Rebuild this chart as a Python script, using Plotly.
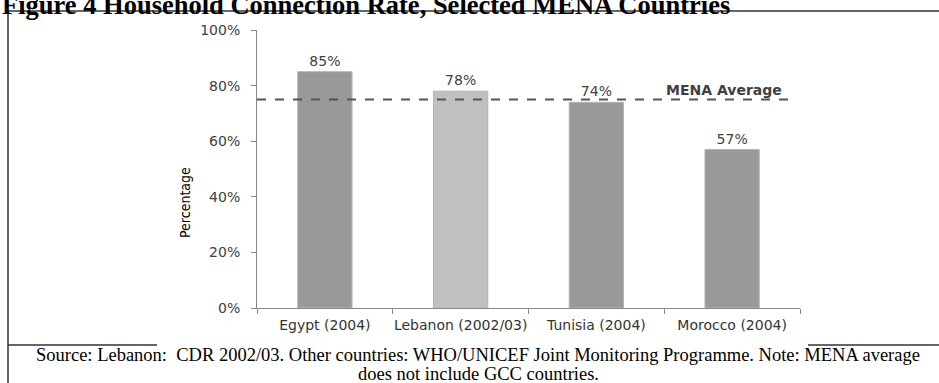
import plotly.graph_objects as go

categories = ["Egypt (2004)", "Lebanon (2002/03)", "Tunisia (2004)", "Morocco (2004)"]
values = [85, 78, 74, 57]
labels = ["85%", "78%", "74%", "57%"]
bar_colors = ["#999999", "#c0c0c0", "#999999", "#999999"]
mena_average = 75
y_ticks = [0, 20, 40, 60, 80, 100]
y_tick_text = ["0%", "20%", "40%", "60%", "80%", "100%"]

W, H = 939, 383


def px_x(x):
    return x / W


def px_y(y):
    return 1 - y / H


X0, X1 = 257, 800
Y0, Y1 = 30, 308

fig = go.Figure()
fig.add_trace(go.Bar(
    x=categories, y=values, width=0.4,
    marker=dict(color=bar_colors, line=dict(color="#b4b4b4", width=1)),
    text=labels, textposition="outside",
    textfont=dict(family="DejaVu Sans", size=14, color="#404040"),
    cliponaxis=False, hoverinfo="skip",
))

fig.update_layout(
    width=W, height=H, margin=dict(l=0, r=0, t=0, b=0, autoexpand=False),
    paper_bgcolor="white", plot_bgcolor="white",
    showlegend=False, bargap=0.6,
    xaxis=dict(
        domain=[px_x(X0), px_x(X1)], type="category", automargin=False,
        showline=True, linecolor="#888888", linewidth=1, tickangle=0,
        ticks="outside", ticklen=5, tickcolor="#888888", tickson="boundaries",
        tickfont=dict(family="DejaVu Sans", size=14, color="#333333"),
        showgrid=False, zeroline=False, ticklabelstandoff=4,
    ),
    yaxis=dict(
        domain=[px_y(Y1), px_y(Y0)], range=[0, 100], automargin=False,
        tickvals=y_ticks, ticktext=y_tick_text,
        showline=True, linecolor="#888888", linewidth=1,
        ticks="outside", ticklen=5, tickcolor="#888888",
        tickfont=dict(family="DejaVu Sans", size=14, color="#404040"),
        showgrid=False, zeroline=False, ticklabelstandoff=8,
    ),
)

# MENA average dashed line
fig.add_shape(type="line", xref="paper", yref="y",
              x0=px_x(X0), x1=px_x(797), y0=mena_average, y1=mena_average,
              line=dict(color="#555555", width=2, dash="dash"))
fig.add_annotation(text="MENA Average", xref="paper", yref="y",
                   x=px_x(724), xanchor="center", y=mena_average, yanchor="bottom",
                   showarrow=False, yshift=-1,
                   font=dict(family="DejaVu Sans", size=14, color="#404040", weight="bold"))

# Y-axis title
fig.add_annotation(text="Percentage", xref="paper", yref="paper",
                   x=px_x(185), xanchor="center", y=px_y(203), yanchor="middle",
                   textangle=-90, showarrow=False,
                   font=dict(family="DejaVu Sans Condensed, DejaVu Sans", size=14, color="#000000"))

# Figure title (partially cut off at top)
fig.add_annotation(text="<b>Figure 4 Household Connection Rate, Selected MENA Countries</b>",
                   xref="paper", yref="paper", x=0, xanchor="left",
                   y=px_y(22), yanchor="bottom", showarrow=False,
                   font=dict(family="Liberation Serif", size=26.5, color="#000000"))

# Source note
fig.add_annotation(text="Source: Lebanon:  CDR 2002/03. Other countries: WHO/UNICEF Joint Monitoring Programme. Note: MENA average",
                   xref="paper", yref="paper", x=px_x(478), xanchor="center",
                   y=px_y(355), yanchor="middle", showarrow=False,
                   font=dict(family="Liberation Serif", size=18.5, color="#000000"))
fig.add_annotation(text="does not include GCC countries.",
                   xref="paper", yref="paper", x=px_x(478), xanchor="center",
                   y=px_y(374), yanchor="middle", showarrow=False,
                   font=dict(family="Liberation Serif", size=18.5, color="#000000"))

# Frame lines
frame = dict(color="#333333", width=1.5)
fig.add_shape(type="line", xref="paper", yref="paper", x0=px_x(8), x1=1, y0=px_y(11), y1=px_y(11), line=frame)
fig.add_shape(type="line", xref="paper", yref="paper", x0=px_x(8), x1=px_x(8), y0=px_y(11), y1=0, line=frame)
fig.add_shape(type="line", xref="paper", yref="paper", x0=px_x(8), x1=px_x(157), y0=px_y(345), y1=px_y(345), line=frame)
fig.add_shape(type="line", xref="paper", yref="paper", x0=px_x(808), x1=1, y0=px_y(345), y1=px_y(345), line=frame)

fig.write_html("out.html")
